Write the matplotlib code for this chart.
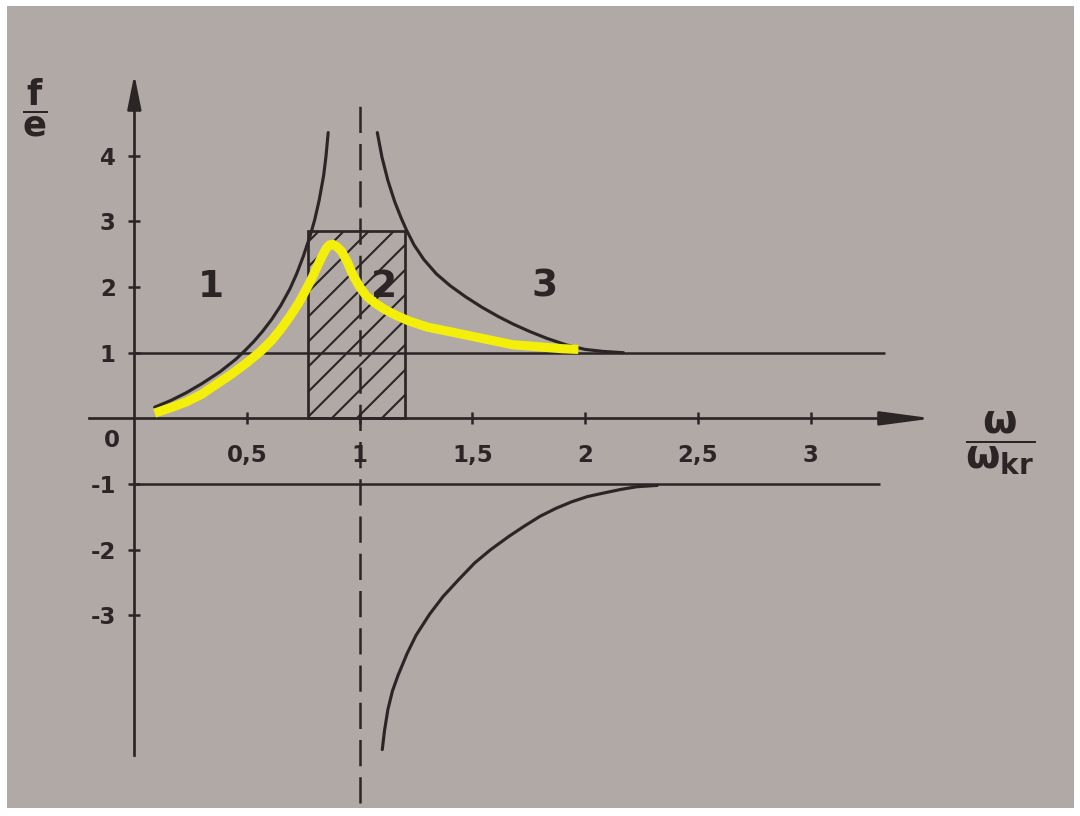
import matplotlib
matplotlib.use("Agg")
import matplotlib.pyplot as plt
from matplotlib.patches import Rectangle

plt.rcParams["font.family"] = ["DejaVu Sans"]
plt.rcParams["font.weight"] = "bold"
plt.rcParams["mathtext.fontset"] = "dejavusans"
plt.rcParams["hatch.linewidth"] = 1.0

# f/e versus w/w_kr
x_ticks = [0.5, 1, 1.5, 2, 2.5, 3]
x_labels = ["0,5", "1", "1,5", "2", "2,5", "3"]
y_ticks = [-3, -2, -1, 1, 2, 3, 4]
y_labels = ["-3", "-2", "-1", "1", "2", "3", "4"]

# black curve, branch below the critical speed
left_w = [0.09, 0.16, 0.23, 0.30, 0.38, 0.45, 0.49, 0.53, 0.57, 0.61,
          0.65, 0.69, 0.72, 0.75, 0.78, 0.80, 0.82, 0.84, 0.85, 0.86]
left_f = [0.17, 0.27, 0.39, 0.53, 0.71, 0.90, 1.03, 1.17, 1.33, 1.51,
          1.72, 1.97, 2.20, 2.47, 2.78, 3.02, 3.32, 3.70, 3.98, 4.35]

# black curve above the critical speed, upper (|f/e|) branch
right_w = [1.078, 1.099, 1.125, 1.155, 1.185, 1.207, 1.241, 1.284, 1.340, 1.401,
           1.470, 1.543, 1.615, 1.684, 1.756, 1.829, 1.915, 2.00, 2.078, 2.17]
right_f = [4.35, 3.97, 3.62, 3.30, 3.04, 2.87, 2.64, 2.42, 2.20, 2.02,
           1.85, 1.69, 1.55, 1.43, 1.32, 1.22, 1.12, 1.05, 1.02, 1.00]

# lower branch
low_w = [1.10, 1.11, 1.125, 1.145, 1.17, 1.21, 1.25, 1.31, 1.37, 1.44, 1.51,
         1.58, 1.66, 1.73, 1.80, 1.87, 1.94, 2.01, 2.09, 2.16, 2.23, 2.32]
low_f = [-5.04, -4.75, -4.43, -4.15, -3.91, -3.58, -3.30, -2.98, -2.71, -2.45, -2.20,
         -2.00, -1.80, -1.64, -1.49, -1.37, -1.27, -1.19, -1.13, -1.08, -1.04, -1.02]

# highlighted (damped) response curve
damped_w = [0.09, 0.16, 0.23, 0.30, 0.36, 0.43, 0.50, 0.56, 0.61, 0.65, 0.69, 0.73,
            0.76, 0.79, 0.81, 0.83, 0.85, 0.865, 0.88, 0.90, 0.92, 0.945, 0.97,
            1.00, 1.03, 1.07, 1.11, 1.16, 1.22, 1.30, 1.40, 1.47, 1.54, 1.61,
            1.68, 1.76, 1.83, 1.90, 1.97]
damped_f = [0.08, 0.16, 0.25, 0.37, 0.51, 0.67, 0.85, 1.02, 1.19, 1.36, 1.55, 1.76,
            1.95, 2.15, 2.30, 2.45, 2.58, 2.64, 2.65, 2.61, 2.54, 2.38, 2.18,
            2.00, 1.86, 1.75, 1.66, 1.57, 1.48, 1.39, 1.32, 1.27, 1.22, 1.17,
            1.12, 1.10, 1.08, 1.06, 1.05]

# hatched resonance zone
zone_lo, zone_hi, zone_top = 0.77, 1.20, 2.85
asymptotes = [1, -1]
asymptote_end = [3.33, 3.31]

regions = ["1", "2", "3"]
region_w = [0.34, 1.11, 1.82]
region_f = [2.0, 2.0, 2.0]

ink = "#2b2525"
paper = "#b1a9a6"

fig = plt.figure(figsize=(7.2, 5.44), dpi=150)
fig.patch.set_facecolor("white")
ax = fig.add_axes([7 / 1080, 8 / 816, 1067 / 1080, 802 / 816])
ax.set_facecolor(paper)
ax.set_xlim(-0.565, 4.169)
ax.set_ylim(-5.93, 6.277)

for side in ["top", "right"]:
    ax.spines[side].set_visible(False)
for side in ["left", "bottom"]:
    ax.spines[side].set_position(("data", 0))
    ax.spines[side].set_color(ink)
    ax.spines[side].set_linewidth(1.3)
ax.spines["bottom"].set_bounds(-0.2, 3.45)
ax.spines["left"].set_bounds(-5.12, 5.1)

ax.set_xticks(x_ticks, x_labels)
ax.set_yticks(y_ticks, y_labels)
ax.tick_params(direction="inout", length=5.8, width=1.2, color=ink,
               labelcolor=ink, labelsize=11)
ax.tick_params(axis="x", pad=9.5)
ax.tick_params(axis="y", pad=6)

# axis arrows
ax.annotate("", xy=(3.56, 0), xytext=(3.3, 0),
            arrowprops=dict(arrowstyle="-|>,head_length=2.1,head_width=0.28",
                            mutation_scale=10, color=ink, lw=1.3))
ax.annotate("", xy=(0, 5.3), xytext=(0, 4.9),
            arrowprops=dict(arrowstyle="-|>,head_length=1.4,head_width=0.28",
                            mutation_scale=10, color=ink, lw=1.3))
ax.text(-0.1, -0.33, "0", fontsize=11, color=ink, ha="center", va="center")

ax.hlines(asymptotes, 0, asymptote_end, color=ink, lw=1.2)
ax.add_patch(Rectangle((zone_lo, 0), zone_hi - zone_lo, zone_top,
                       facecolor="none", edgecolor=ink, hatch="//", lw=1.3))
ax.vlines(1, -5.85, 4.75, color=ink, lw=1.2, linestyles=(0, (10.5, 4.4)))

for w, f in [(left_w, left_f), (right_w, right_f), (low_w, low_f)]:
    ax.plot(w, f, color=ink, lw=1.5, solid_capstyle="round", solid_joinstyle="round")

ax.plot(damped_w, damped_f, color="#f3ef0a", lw=4.4,
        solid_capstyle="butt", solid_joinstyle="round", zorder=5)

for lab, w, f in zip(regions, region_w, region_f):
    ax.text(w, f, lab, fontsize=18, color=ink, ha="center", va="center")

ax.text(-0.44, 4.72, r"$\dfrac{\mathbf{f}}{\mathbf{e}}$", fontsize=17,
        color=ink, ha="center", va="center")
ax.text(3.84, -0.37, r"$\dfrac{\mathbf{\omega}}{\mathbf{\omega}_{\mathbf{kr}}}$", fontsize=19,
        color=ink, ha="center", va="center")

fig.savefig("out.png", dpi=150, facecolor=fig.get_facecolor())
